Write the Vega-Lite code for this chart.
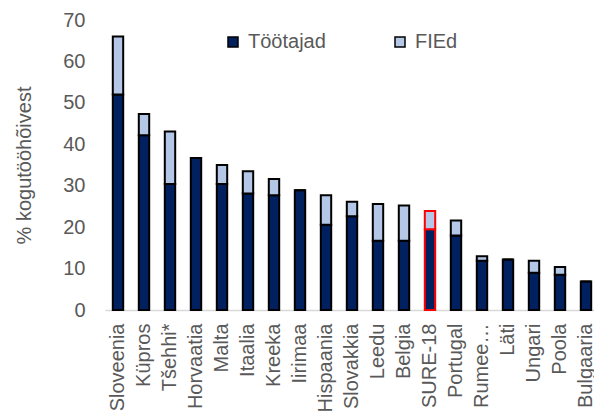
{
  "$schema": "https://vega.github.io/schema/vega-lite/v6.json",
  "autosize": {"type": "none"},
  "padding": {"left": 105, "top": 20, "right": 0, "bottom": 104},
  "width": 494,
  "height": 290,
  "background": "white",
  "config": {
    "view": {"stroke": null},
    "font": "Liberation Sans"
  },
  "data": {
    "values": [
      {"country": "Sloveenia", "type": "Töötajad", "value": 52.0},
      {"country": "Sloveenia", "type": "FIEd", "value": 14.0},
      {"country": "Küpros", "type": "Töötajad", "value": 42.2},
      {"country": "Küpros", "type": "FIEd", "value": 5.1},
      {"country": "Tšehhi*", "type": "Töötajad", "value": 30.4},
      {"country": "Tšehhi*", "type": "FIEd", "value": 12.7},
      {"country": "Horvaatia", "type": "Töötajad", "value": 36.7},
      {"country": "Horvaatia", "type": "FIEd", "value": 0},
      {"country": "Malta", "type": "Töötajad", "value": 30.4},
      {"country": "Malta", "type": "FIEd", "value": 4.6},
      {"country": "Itaalia", "type": "Töötajad", "value": 28.1},
      {"country": "Itaalia", "type": "FIEd", "value": 5.4},
      {"country": "Kreeka", "type": "Töötajad", "value": 27.7},
      {"country": "Kreeka", "type": "FIEd", "value": 3.9},
      {"country": "Iirimaa", "type": "Töötajad", "value": 28.9},
      {"country": "Iirimaa", "type": "FIEd", "value": 0},
      {"country": "Hispaania", "type": "Töötajad", "value": 20.6},
      {"country": "Hispaania", "type": "FIEd", "value": 7.1},
      {"country": "Slovakkia", "type": "Töötajad", "value": 22.6},
      {"country": "Slovakkia", "type": "FIEd", "value": 3.5},
      {"country": "Leedu", "type": "Töötajad", "value": 16.7},
      {"country": "Leedu", "type": "FIEd", "value": 8.9},
      {"country": "Belgia", "type": "Töötajad", "value": 16.7},
      {"country": "Belgia", "type": "FIEd", "value": 8.5},
      {"country": "SURE-18", "type": "Töötajad", "value": 19.5},
      {"country": "SURE-18", "type": "FIEd", "value": 4.4},
      {"country": "Portugal", "type": "Töötajad", "value": 18.0},
      {"country": "Portugal", "type": "FIEd", "value": 3.6},
      {"country": "Rumee…", "type": "Töötajad", "value": 11.9},
      {"country": "Rumee…", "type": "FIEd", "value": 1.1},
      {"country": "Läti", "type": "Töötajad", "value": 12.2},
      {"country": "Läti", "type": "FIEd", "value": 0},
      {"country": "Ungari", "type": "Töötajad", "value": 9.0},
      {"country": "Ungari", "type": "FIEd", "value": 2.9},
      {"country": "Poola", "type": "Töötajad", "value": 8.5},
      {"country": "Poola", "type": "FIEd", "value": 1.9},
      {"country": "Bulgaaria", "type": "Töötajad", "value": 6.9},
      {"country": "Bulgaaria", "type": "FIEd", "value": 0}
    ]
  },
  "mark": {"type": "bar", "strokeWidth": 2, "strokeOpacity": 1, "stroke": "black"},
  "encoding": {
    "x": {
      "field": "country",
      "type": "nominal",
      "sort": null,
      "scale": {"paddingInner": 0.6, "paddingOuter": 0.3},
      "axis": {
        "title": null,
        "labelAngle": 270,
        "labelFontSize": 20,
        "labelColor": "#595959",
        "labelPadding": 13,
        "labelLimit": 200,
        "ticks": false,
        "domainColor": "#D9D9D9",
        "domainWidth": 1.5
      }
    },
    "y": {
      "field": "value",
      "type": "quantitative",
      "stack": "zero",
      "scale": {"domain": [0, 70], "nice": false},
      "axis": {
        "title": "% kogutööhõivest",
        "titleFontSize": 20,
        "titleFontWeight": "normal",
        "titleColor": "#595959",
        "titlePadding": 28,
        "values": [0, 10, 20, 30, 40, 50, 60, 70],
        "labelFontSize": 20,
        "labelColor": "#595959",
        "labelPadding": 20,
        "ticks": false,
        "domain": false,
        "grid": false
      }
    },
    "color": {
      "field": "type",
      "type": "nominal",
      "scale": {"domain": ["Töötajad", "FIEd"], "range": ["#002060", "#B4C7E7"]},
      "legend": {
        "title": null,
        "orient": "none",
        "legendX": 118,
        "legendY": 12,
        "direction": "horizontal",
        "columns": 2,
        "columnPadding": 64,
        "symbolType": "square",
        "symbolSize": 100,
        "labelFontSize": 20,
        "labelColor": "#595959",
        "labelOffset": 5,
        "encode": {
          "symbols": {
            "update": {
              "stroke": {"value": "black"},
              "strokeWidth": {"value": 2}
            }
          }
        }
      }
    },
    "order": {"field": "type", "sort": "descending"},
    "stroke": {
      "condition": {"test": "datum.country === 'SURE-18'", "value": "#FF0000"},
      "value": "black"
    }
  }
}
